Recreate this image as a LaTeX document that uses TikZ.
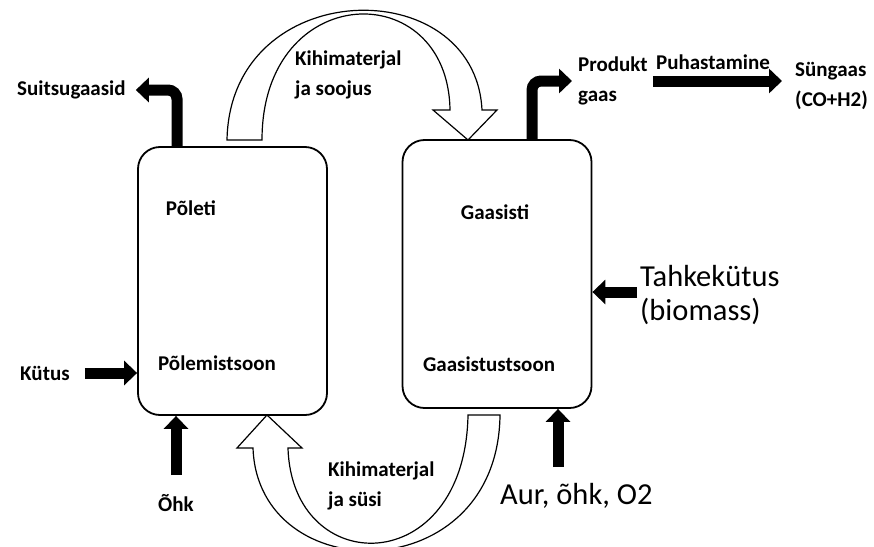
\documentclass[tikz,border=0pt]{standalone}
\usepackage{fontspec}
\setmainfont{Carlito}
\usetikzlibrary{arrows.meta, positioning, calc}
\tikzset{
  every picture/.style={>=Stealth},
  reaktor/.style={draw, line width=1.8pt, rounded corners=22pt,
                  minimum width=189pt, minimum height=268pt},
  silt/.style={inner sep=0pt, font=\fontsize{21}{30}\selectfont\bfseries, align=left},
  suursilt/.style={inner sep=0pt, font=\fontsize{30.5}{34}\selectfont, align=left},
  vool/.style={line width=11pt, -{Triangle[length=13pt, width=24pt]}},
  ringvool/.style={draw, fill=white, line width=1.2pt},
}

\begin{document}
\begin{tikzpicture}[x=1pt, y=-1pt]
  \useasboundingbox (0,0) rectangle (874,546);
  % reaktorid
  \node[reaktor] (pol) at (232.5,281) {};
  \node[reaktor] (gas) at (497,274) {};
  \node[silt] (poleti) at (191,208) {Põleti};
  \node[silt] (polemis) at (217,363) {Põlemistsoon};
  \node[silt] (gaasisti) at (495,212) {Gaasisti};
  \node[silt] (gaasistus) at (489,364) {Gaasistustsoon};

  % kihimaterjali ringlus
  \draw[ringvool] (227,140) .. controls (230,-25) and (475,-30) .. (482,110)
    -- (497,110) -- (468,140) -- (433,110) -- (450,110)
    .. controls (448,-25) and (262,-20) .. (262,140) -- cycle;
  \draw[ringvool] (500,415) .. controls (498,590) and (258,590) .. (253,448)
    -- (237,448) -- (267,415) -- (302,448) -- (288,448)
    .. controls (292,580) and (465,580) .. (468,415) -- cycle;

  % sildid
  \node[silt, anchor=west] (suits) at (17,90) {Suitsugaasid};
  \node[silt, anchor=west] (kiht1) at (295,75) {Kihimaterjal\\ja soojus};
  \node[silt, anchor=west] (prod) at (578,81) {Produkt\\gaas};
  \node[silt] (puh) at (713,62) {Puhastamine};
  \node[silt, anchor=west] (syn) at (795,86) {Süngaas\\(CO+H2)};
  \node[silt, anchor=west] (kut) at (20,373) {Kütus};
  \node[silt] (ohk) at (176,503) {Õhk};
  \node[silt, anchor=west] (kiht2) at (328,486) {Kihimaterjal\\ja süsi};
  \node[suursilt, anchor=west] (tahke) at (640,295) {Tahkekütus\\(biomass)};
  \node[suursilt, anchor=west] (aur) at (500,496) {Aur, õhk, O2};

  % vood
  \draw[vool, rounded corners=9pt] ([xshift=-55.5pt]pol.north) |- ([xshift=10pt]suits.east);
  \draw[vool, rounded corners=9pt] ([xshift=35pt]gas.north) |- ([xshift=-6pt]prod.west);
  \draw[vool] ([xshift=5pt]prod.east) -- ($(prod.east -| syn.west)+(-13,0)$);
  \draw[vool] ([xshift=15pt]kut.east) -- (kut.east -| pol.west);
  \draw[vool] ([yshift=19pt]ohk.north) -- (ohk.north |- pol.south);
  \coordinate (aurin) at (558,467);
  \draw[vool] (aurin) -- (aurin |- gas.south);
  \coordinate (tahkein) at (637,292);
  \draw[vool] (tahkein) -- (tahkein -| gas.east);
\end{tikzpicture}
\end{document}
